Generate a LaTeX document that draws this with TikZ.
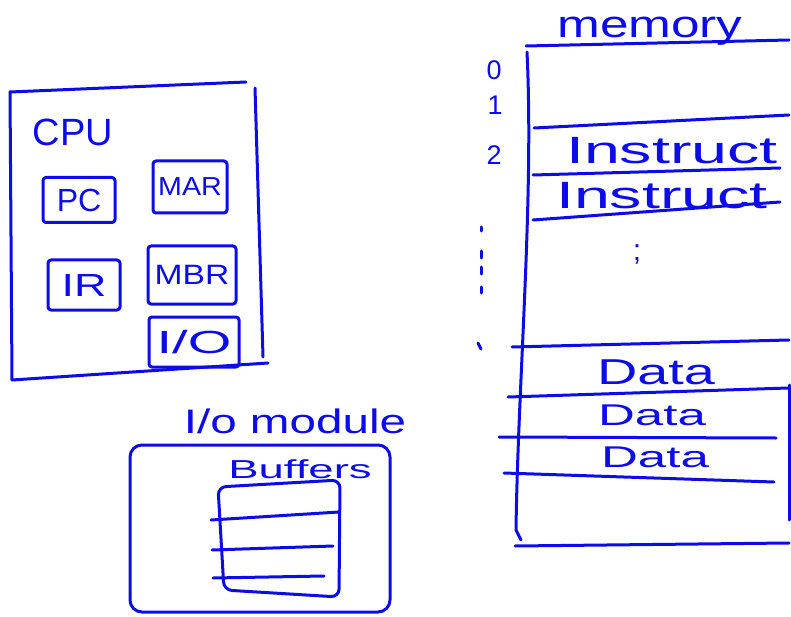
\documentclass[tikz,border=0pt]{standalone}
\usepackage{fontspec}
\setmainfont{Liberation Sans}
\definecolor{inkblue}{RGB}{12,12,235}

\begin{document}
\begin{tikzpicture}[x=1pt,y=-1pt,
  ink/.style={draw=inkblue,line width=3pt,line cap=round,line join=round},
  scrawl/.style={text=inkblue,inner sep=0pt},
  reg/.style={ink,scrawl,rounded corners=3pt}]
  \useasboundingbox (0,0) rectangle (791,617);

  % cpu
  \draw[ink] (10,92) -- (246,82);
  \draw[ink] (255,88) -- (263,357);
  \draw[ink] (10,92) -- (12,380) -- (268,363);
  \node[scrawl,font=\fontsize{38}{38}\selectfont] (cpu) at (73,132) {CPU};
  \node[reg,minimum width=72pt,minimum height=45pt,font=\fontsize{32}{32}\selectfont] (pc) at (79,200) {PC};
  \node[reg,minimum width=74pt,minimum height=52pt,font=\fontsize{26}{26}\selectfont] (mar) at (190,187) {\scalebox{1.1}[1]{MAR}};
  \node[reg,minimum width=72pt,minimum height=50pt,font=\fontsize{32}{32}\selectfont] (ir) at (84,285) {\scalebox{1.4}[1]{IR}};
  \node[reg,minimum width=88pt,minimum height=58pt,font=\fontsize{28}{28}\selectfont] (mbr) at (192,275) {\scalebox{1.2}[1]{MBR}};
  \node[reg,minimum width=90pt,minimum height=50pt,font=\fontsize{32}{32}\selectfont] (io) at (194,342) {\scalebox{1.75}[1]{I/O}};

  % io module
  \node[scrawl,font=\fontsize{34}{34}\selectfont] (iomodule) at (295,421) {\scalebox{1.4}[1]{I/o module}};
  \draw[ink,rounded corners=12pt] (130,445) rectangle (390,612);
  \node[scrawl,font=\fontsize{26}{26}\selectfont] (buffers) at (300,469) {\scalebox{1.75}[1]{Buffers}};
  \draw[ink,rounded corners=8pt] (218,487) -- (340,480) -- (339,597) -- (224,590) -- cycle;
  \draw[ink] (211,520) -- (339,512);
  \draw[ink] (212,550) -- (333,546);
  \draw[ink] (213,578) -- (324,576);

  % memory
  \node[scrawl,font=\fontsize{38}{38}\selectfont] (memory) at (650,31) {\scalebox{1.35}[1]{memory}};
  \draw[ink] (526,46) -- (789,40);
  \draw[ink] (527,52) .. controls (534,200) and (518,380) .. (516,530) -- (521,540);
  \draw[ink] (789,385) -- (789,520);
  \draw[ink] (534,128) -- (789,115);
  \draw[ink] (533,175) -- (780,168);
  \draw[ink] (533,220) -- (780,202);
  \draw[ink] (512,347) -- (789,340);
  \draw[ink] (508,397) -- (788,388);
  \draw[ink] (499,437) -- (776,438);
  \draw[ink] (504,473) -- (774,482);
  \draw[ink] (515,546) -- (789,543);
  \node[scrawl,font=\fontsize{27}{27}\selectfont] (addr0) at (494,70) {0};
  \node[scrawl,font=\fontsize{27}{27}\selectfont] (addr1) at (495,105) {1};
  \node[scrawl,font=\fontsize{27}{27}\selectfont] (addr2) at (494,155) {2};
  \draw[ink] (481,227) -- (481,231);
  \draw[ink] (481,251) -- (481,258);
  \draw[ink] (481,267) -- (481,274);
  \draw[ink] (481,287) -- (481,293);
  \draw[ink] (478,343) -- (481,349);
  \node[scrawl,font=\fontsize{38}{38}\selectfont] (instr1) at (672,151) {\scalebox{1.7}[1]{Instruct}};
  \node[scrawl,font=\fontsize{38}{38}\selectfont] (instr2) at (662,196) {\scalebox{1.7}[1]{Instruct}};
  \node[scrawl,font=\fontsize{30}{30}\selectfont] (gap) at (637,254) {;};
  \node[scrawl,font=\fontsize{36}{36}\selectfont] (data1) at (656,372) {\scalebox{1.55}[1]{Data}};
  \node[scrawl,font=\fontsize{30}{30}\selectfont] (data2) at (652,415) {\scalebox{1.7}[1]{Data}};
  \node[scrawl,font=\fontsize{30}{30}\selectfont] (data3) at (655,457) {\scalebox{1.7}[1]{Data}};
\end{tikzpicture}
\end{document}
